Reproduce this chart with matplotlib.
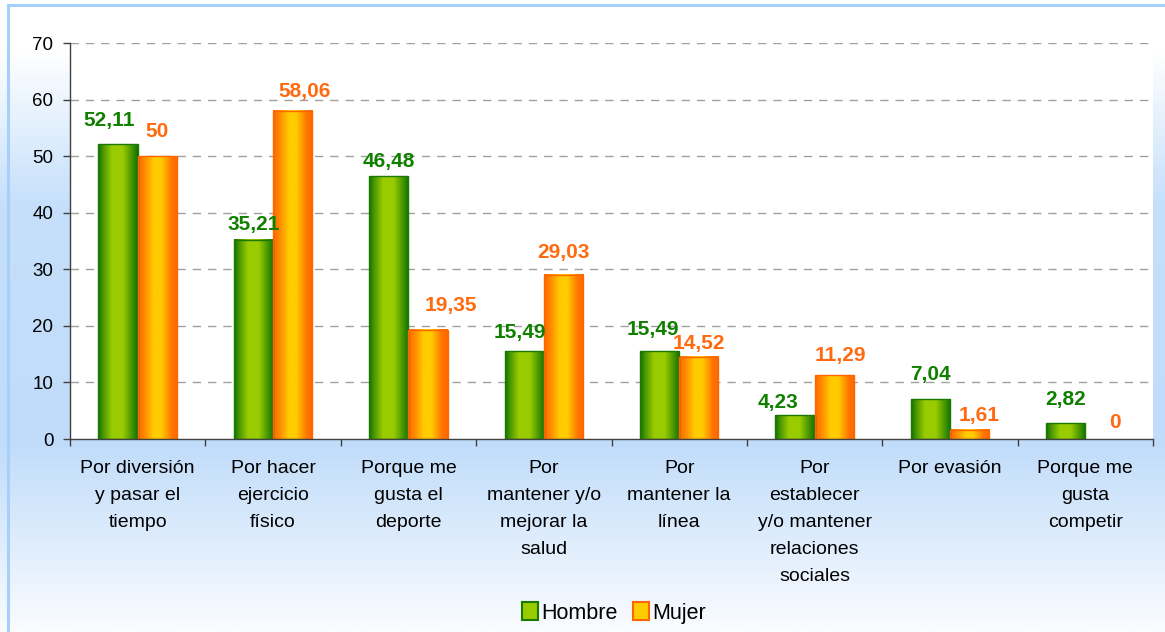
import numpy as np
import matplotlib
matplotlib.use('Agg')
import matplotlib.pyplot as plt
from matplotlib.colors import LinearSegmentedColormap
from matplotlib.patches import Patch, Rectangle

plt.rcParams['font.family'] = ['Liberation Sans', 'DejaVu Sans']

# data
categorias = ['Por diversión\ny pasar el\ntiempo', 'Por hacer\nejercicio\nfísico',
              'Porque me\ngusta el\ndeporte', 'Por\nmantener y/o\nmejorar la\nsalud',
              'Por\nmantener la\nlínea', 'Por\nestablecer\ny/o mantener\nrelaciones\nsociales',
              'Por evasión', 'Porque me\ngusta\ncompetir']
hombre = [52.11, 35.21, 46.48, 15.49, 15.49, 4.23, 7.04, 2.82]
mujer = [50, 58.06, 19.35, 29.03, 14.52, 11.29, 1.61, 0]
series = ['Hombre', 'Mujer']

# label placement as in the original (pixels: sideways shift, height of label centre over bar)
dx_h = [-9, 0, 0, -4, -7, -17, 0, 0]
dy_h = [23.5, 15, 15, 19, 21.5, 12.5, 24.5, 23.5]
dx_m = [0, 12, 23, 0, 0, 6, 10, 10]
dy_m = [25, 19, 24.5, 22, 13, 20, 14.5, 17]

fig = plt.figure(figsize=(11.65, 6.32), dpi=100)

# background gradient (white -> light blue -> white)
bg = fig.add_axes([0, 0, 1, 1], zorder=-10)
bg_cmap = LinearSegmentedColormap.from_list('bg', [(0.0, '#ffffff'), (0.08, '#ffffff'),
                                                   (0.32, '#c6e0fb'), (0.70, '#c0dcfa'),
                                                   (1.0, '#fafcff')])
bg.imshow(np.linspace(0, 1, 256).reshape(-1, 1), aspect='auto', cmap=bg_cmap,
          extent=[0, 1, 0, 1], origin='upper')
bg.add_patch(Rectangle((8 / 1165, -0.1), 1.2, 1.1 - 5 / 632, fill=False,
                       edgecolor='#a6d0fb', lw=2.2))
bg.set_xlim(0, 1)
bg.set_ylim(0, 1)
bg.axis('off')

ax = fig.add_axes([70 / 1165, 1 - 439 / 632, (1153 - 70) / 1165, (439 - 43) / 632])
ax.set_facecolor('white')

green_cmap = LinearSegmentedColormap.from_list('g', [(0.0, '#0e7400'), (0.12, '#4a9600'),
                                                     (0.35, '#99cc00'), (0.62, '#99cc00'),
                                                     (0.85, '#4a9600'), (1.0, '#0e7400')])
orange_cmap = LinearSegmentedColormap.from_list('o', [(0.0, '#ff6600'), (0.15, '#ff8800'),
                                                      (0.40, '#ffcc00'), (0.58, '#ffcc00'),
                                                      (0.85, '#ff7700'), (1.0, '#ff6600')])
grad = np.linspace(0, 1, 64).reshape(1, -1)

x = np.arange(len(categorias))
w = 0.29
pt = 72 / 100  # px -> points
for vals, off, cmap, edge, txtc, dxs, dys in [
        (hombre, -w / 2, green_cmap, '#1a7a00', '#118000', dx_h, dy_h),
        (mujer, w / 2, orange_cmap, '#ff6600', '#ff6a10', dx_m, dy_m)]:
    for xi, v, ddx, ddy in zip(x, vals, dxs, dys):
        x0, x1 = xi + off - w / 2, xi + off + w / 2
        if v > 0:
            ax.imshow(grad, aspect='auto', cmap=cmap, extent=[x0, x1, 0, v], zorder=3)
            ax.add_patch(Rectangle((x0, 0), w, v, fill=False, edgecolor=edge, lw=1, zorder=4))
        lbl = ('%g' % v).replace('.', ',')
        if v not in (0, 50):
            lbl = ('%.2f' % v).replace('.', ',')
        ax.annotate(lbl, (xi + off, v), xytext=(ddx * pt, ddy * pt), textcoords='offset points',
                    ha='center', va='center', fontsize=15, fontweight='bold', color=txtc, zorder=5)

ax.set_xlim(-0.5, len(categorias) - 0.5)
ax.set_ylim(0, 70)
ax.set_yticks(range(0, 71, 10))
ax.tick_params(axis='y', labelsize=13.5, length=5, width=1, color='#404040', pad=7)
for yv in range(10, 71, 10):
    ax.axhline(yv, color='#a0a0a0', lw=1, dashes=(6, 5), zorder=1)

ax.set_xticks(np.arange(-0.5, len(categorias), 1))
ax.set_xticklabels([])
ax.set_xticks(x, minor=True)
ax.set_xticklabels(categorias, minor=True, fontsize=14, linespacing=1.77, va='top')
ax.tick_params(axis='x', which='major', length=5, width=1, color='#404040')
ax.tick_params(axis='x', which='minor', length=0, pad=15)

for s in ['top', 'right']:
    ax.spines[s].set_visible(False)
for s in ['left', 'bottom']:
    ax.spines[s].set_color('#404040')
    ax.spines[s].set_linewidth(1)
ax.spines['bottom'].set_zorder(6)

handles = [Patch(facecolor='#99cc00', edgecolor='#1a7a00', lw=1.5),
           Patch(facecolor='#ffcc00', edgecolor='#ff6600', lw=1.5)]
fig.legend(handles, series, loc='center', bbox_to_anchor=(614 / 1165, 1 - 613 / 632), ncol=2,
           frameon=False, fontsize=15.5, handlelength=0.75, handleheight=0.85,
           handletextpad=0.15, columnspacing=0.7)

fig.savefig('out.png', dpi=100)
